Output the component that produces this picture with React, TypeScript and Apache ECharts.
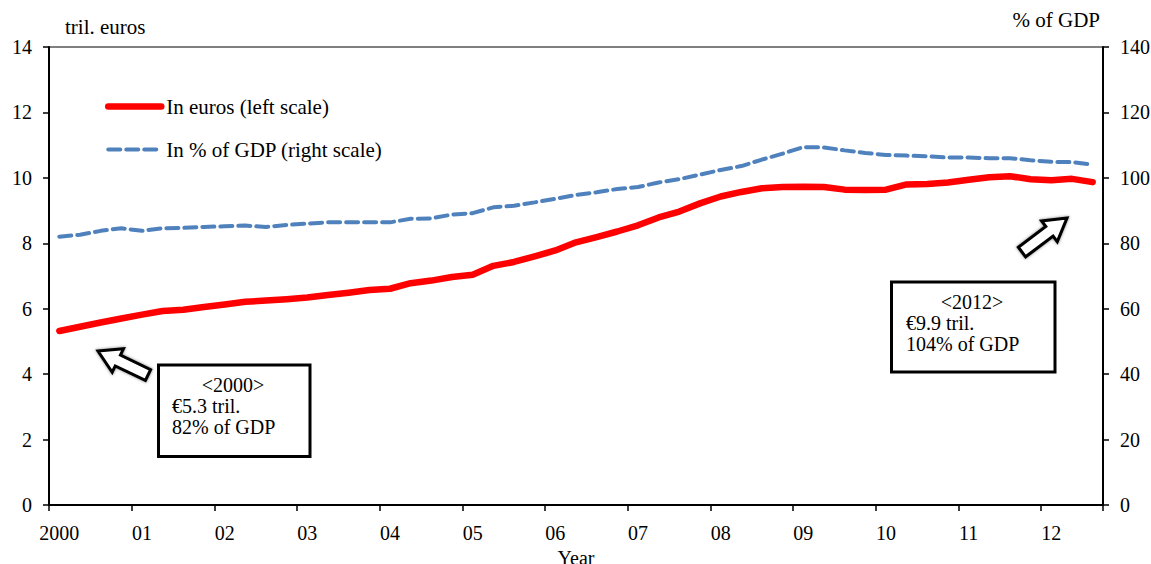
import React, { useEffect, useRef } from "react";
import * as echarts from "echarts";

const quarters: string[] = [];
for (let y = 2000; y <= 2012; y++) {
  for (let q = 1; q <= 4; q++) {
    if (y === 2012 && q === 4) break;
    quarters.push(`${y}Q${q}`);
  }
}

const yearLabels = ["2000", "01", "02", "03", "04", "05", "06", "07", "08", "09", "10", "11", "12"];

const debtEuros = [
  5.32, 5.45, 5.58, 5.7, 5.82, 5.93, 5.97, 6.05, 6.13, 6.21, 6.25, 6.29, 6.34,
  6.42, 6.49, 6.57, 6.61, 6.78, 6.86, 6.97, 7.04, 7.31, 7.43, 7.6, 7.78, 8.03,
  8.19, 8.36, 8.55, 8.79, 8.97, 9.22, 9.43, 9.57, 9.68, 9.72, 9.73, 9.72, 9.64,
  9.63, 9.64, 9.8, 9.81, 9.86, 9.94, 10.02, 10.05, 9.96, 9.93, 9.97, 9.87,
];

const debtPctGdp = [
  82.0, 82.6, 83.8, 84.6, 83.8, 84.6, 84.7, 85.0, 85.2, 85.4, 85.0, 85.6, 86.0,
  86.4, 86.4, 86.4, 86.4, 87.5, 87.6, 88.8, 89.2, 91.0, 91.5, 92.5, 93.6, 94.8,
  95.6, 96.6, 97.2, 98.6, 99.6, 101.0, 102.4, 103.6, 105.6, 107.4, 109.4, 109.3,
  108.4, 107.6, 107.0, 106.8, 106.6, 106.2, 106.2, 106.0, 106.0, 105.4, 104.9,
  104.8, 104.0,
];

const FONT = "'Liberation Serif', 'Times New Roman', serif";

function arrowPoints(tail: [number, number], tip: [number, number]) {
  const dx = tip[0] - tail[0];
  const dy = tip[1] - tail[1];
  const L = Math.sqrt(dx * dx + dy * dy);
  const ux = dx / L, uy = dy / L;
  const nx = -uy, ny = ux;
  const sw = 6, hw = 13, hl = 22;
  const local: [number, number][] = [
    [0, -sw], [L - hl, -sw], [L - hl, -hw], [L, 0], [L - hl, hw], [L - hl, sw], [0, sw],
  ];
  return local.map(([a, b]) => [tail[0] + ux * a + nx * b, tail[1] + uy * a + ny * b]);
}

export default function App() {
  const ref = useRef<HTMLDivElement>(null);
  useEffect(() => {
    if (!ref.current) return;
    const chart = echarts.init(ref.current, undefined, { renderer: "svg", width: 1151, height: 564 });
    const labelStyle = { color: "#000", fontFamily: FONT, fontSize: 20 };
    const boxText = (x: number, y: number, text: string, align: string) => ({
      type: "text",
      x,
      y,
      style: { text, fill: "#000", fontFamily: FONT, fontSize: 20, textAlign: align, textVerticalAlign: "middle" },
    });
    chart.setOption({
      animation: false,
      backgroundColor: "#fff",
      grid: {
        left: 49,
        right: 48,
        top: 47,
        bottom: 59,
        containLabel: false,
        outerBoundsMode: "none",
        show: true,
        borderColor: "#000",
        borderWidth: 1,
      },
      legend: {
        orient: "vertical",
        left: 105,
        top: 96,
        padding: 0,
        itemWidth: 53,
        itemHeight: 14,
        itemGap: 22,
        itemStyle: { opacity: 0 },
        lineStyle: { width: "inherit" },
        textStyle: { color: "#000", fontFamily: FONT, fontSize: 21, lineHeight: 21 },
        data: ["In euros (left scale)", "In % of GDP (right scale)"],
      },
      xAxis: {
        type: "category",
        data: quarters,
        boundaryGap: true,
        name: "Year",
        nameLocation: "middle",
        nameGap: 34,
        nameTextStyle: { color: "#000", fontFamily: FONT, fontSize: 20 },
        axisLine: { lineStyle: { color: "#000", width: 2 } },
        axisTick: { show: true, interval: 3, alignWithLabel: false, length: 6, lineStyle: { color: "#000", width: 1.5 } },
        axisLabel: {
          ...labelStyle,
          interval: 3,
          margin: 18,
          formatter: (_v: string, idx: number) => (idx % 4 === 0 ? yearLabels[idx / 4] : ""),
        },
        splitLine: { show: false },
      },
      yAxis: [
        {
          type: "value",
          min: 0,
          max: 14,
          interval: 2,
          position: "left",
          axisLine: { show: true, lineStyle: { color: "#000", width: 2 } },
          axisTick: { show: true, length: 6, lineStyle: { color: "#000", width: 1.5 } },
          axisLabel: { ...labelStyle, margin: 17 },
          splitLine: { show: false },
        },
        {
          type: "value",
          min: 0,
          max: 140,
          interval: 20,
          position: "right",
          axisLine: { show: true, lineStyle: { color: "#000", width: 2 } },
          axisTick: { show: true, length: 6, lineStyle: { color: "#000", width: 1.5 } },
          axisLabel: { ...labelStyle, margin: 17 },
          splitLine: { show: false },
        },
      ],
      series: [
        {
          name: "In euros (left scale)",
          type: "line",
          yAxisIndex: 0,
          data: debtEuros,
          symbol: "none",
          lineStyle: { color: "#FF0000", width: 6.5, cap: "round", join: "round" },
          itemStyle: { color: "#FF0000" },
          z: 3,
        },
        {
          name: "In % of GDP (right scale)",
          type: "line",
          yAxisIndex: 1,
          data: debtPctGdp,
          symbol: "none",
          lineStyle: { color: "#4F81BD", width: 4, type: [12, 6], cap: "round" },
          itemStyle: { color: "#4F81BD" },
          z: 2,
        },
      ],
      graphic: [
        {
          type: "text",
          x: 65,
          y: 27,
          style: { text: "tril. euros", fill: "#000", fontFamily: FONT, fontSize: 21, textAlign: "left", textVerticalAlign: "middle" },
        },
        {
          type: "text",
          x: 1100,
          y: 20,
          style: { text: "% of GDP", fill: "#000", fontFamily: FONT, fontSize: 21, textAlign: "right", textVerticalAlign: "middle" },
        },
        {
          type: "rect",
          shape: { x: 158.5, y: 365, width: 151.5, height: 91.5 },
          style: { fill: "#fff", stroke: "#000", lineWidth: 3 },
        },
        boxText(233, 385, "<2000>", "center"),
        boxText(172, 406, "€5.3 tril.", "left"),
        boxText(172, 427, "82% of GDP", "left"),
        {
          type: "rect",
          shape: { x: 891.5, y: 282, width: 163.5, height: 90 },
          style: { fill: "#fff", stroke: "#000", lineWidth: 3 },
        },
        boxText(972, 302, "<2012>", "center"),
        boxText(906, 323, "€9.9 tril.", "left"),
        boxText(906, 344, "104% of GDP", "left"),
        {
          type: "polygon",
          shape: { points: arrowPoints([148, 375], [98, 351]) },
          style: { fill: "#fff", stroke: "#000", lineWidth: 3, shadowBlur: 3, shadowColor: "rgba(0,0,0,0.5)" },
        },
        {
          type: "polygon",
          shape: { points: arrowPoints([1022, 252], [1067, 218]) },
          style: { fill: "#fff", stroke: "#000", lineWidth: 3, shadowBlur: 3, shadowColor: "rgba(0,0,0,0.5)" },
        },
      ],
    });
    return () => chart.dispose();
  }, []);
  return (
    <div
      ref={ref}
      style={{ position: "fixed", left: 0, top: 0, width: 1151, height: 564, background: "#fff" }}
    />
  );
}
